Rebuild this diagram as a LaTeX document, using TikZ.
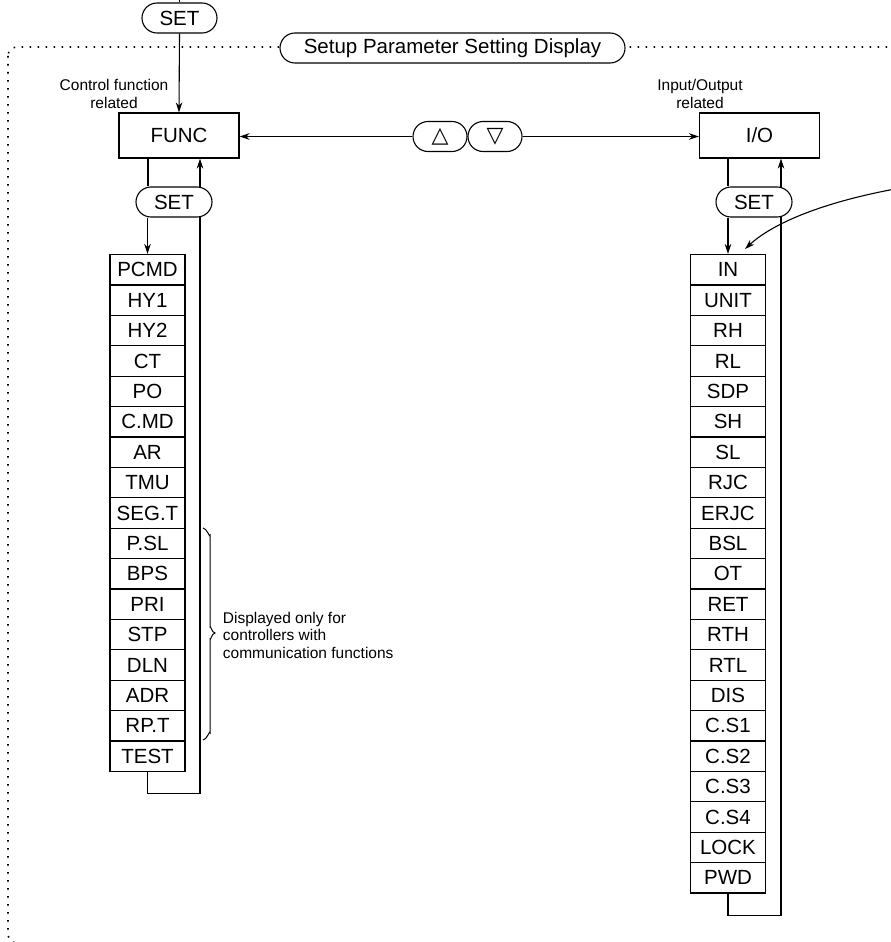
\documentclass[tikz,border=0pt]{standalone}
\usepackage{fontspec}
\setmainfont{Liberation Sans}
\newfontfamily\symfnt{DejaVu Sans}
\usetikzlibrary{arrows.meta}
\begin{document}
\begin{tikzpicture}[x=1pt,y=-1pt,
  >={Stealth[length=10pt,width=6.5pt]},
  line width=1.1pt,
  lbl/.style={font=\fontsize{20.5}{24}\selectfont},
  small/.style={font=\fontsize{15.5}{17.5}\selectfont},
  rowbox/.style={draw, lbl, minimum width=75pt, minimum height=30.4pt, inner sep=0pt, anchor=north},
  oval/.style={draw, fill=white, lbl, rounded corners=15pt, minimum height=30pt, inner sep=0pt},
  bigbox/.style={draw, lbl, minimum width=120pt, minimum height=45pt, inner sep=0pt},
  frame/.style={line width=1.6pt, dash pattern=on 1.6pt off 6.4pt, rounded corners=9pt}]
\useasboundingbox (0,0) rectangle (891,942);
\clip (0,0) rectangle (891,942);

% dotted frame and title
\draw[frame] (8,47) rectangle (910,943);
\node[oval, minimum width=345pt] (title) at (452.5,48) {Setup Parameter Setting Display};

% top SET
\coordinate (topin) at (179.5,-2);
\node[oval, minimum width=75pt] (set0) at (179.5,18) {SET};

% main boxes
\node[bigbox] (func) at (179,135.5) {FUNC};
\node[bigbox] (io) at (759.5,135.5) {I/O};
\node[small, align=center] (cfr) at (114,94) {Control function\\related};
\node[small, align=center] (ior) at (700,94) {Input/Output\\related};

% up/down keys
\node[oval, minimum width=54pt, font=\fontsize{22}{24}\symfnt] (up) at (440,136.5) {△};
\node[oval, minimum width=54pt, font=\fontsize{22}{24}\symfnt] (dn) at (495,136.5) {▽};

% lists
\foreach \t [count=\i] in {PCMD,HY1,HY2,CT,PO,C.MD,AR,TMU,SEG.T,P.SL,BPS,PRI,STP,DLN,ADR,RP.T,TEST}
  \node[rowbox] (f\i) at (147.5,{254+(\i-1)*30.4}) {\t};
\foreach \t [count=\i] in {IN,UNIT,RH,RL,SDP,SH,SL,RJC,ERJC,BSL,OT,RET,RTH,RTL,DIS,C.S1,C.S2,C.S3,C.S4,LOCK,PWD}
  \node[rowbox] (r\i) at (728,{254+(\i-1)*30.4}) {\t};

% return loops (drawn before the SET keys so the keys cover them)
\coordinate (fr) at (200,0);
\coordinate (fl) at (148,0);
\coordinate (irr) at (781,0);
\coordinate (il) at (728,0);
\draw[->] (f17.south) -- ++(0,22) -| (func.south -| fr);
\draw[->] (r21.south) -- ++(0,22) -| (io.south -| irr);

% SET keys under FUNC and I/O
\node[oval, minimum width=76pt] (fset) at (174,202) {SET};
\node[oval, minimum width=76pt] (iset) at (754,202) {SET};

% connectors
\draw (topin) -- (set0.north);
\draw[->] (set0.south) -- (func.north);
\draw (func.south -| fl) -- (fset.north -| fl);
\draw[->] (fset.south -| f1.north) -- (f1.north);
\draw (io.south -| il) -- (iset.north -| il);
\draw[->] (iset.south -| r1.north) -- (r1.north);
\draw[->] (up.west) -- (func.east |- up.west);
\draw[->] (dn.east) -- (io.west |- dn.east);

% curved pointer from the right
\coordinate (cs) at (895,189);
\draw[->] (cs) .. controls (820,203) and (772,224) .. ([xshift=17pt,yshift=5pt]r1.north);

% brace and note
\draw[line width=1pt] (203,528) to[out=0,in=-90] (210,535) -- (210,627)
  to[out=90,in=180] (215,633) to[out=180,in=-90] (210,639) -- (210,733)
  to[out=90,in=0] (203,740);
\node[small, align=left, anchor=west] (note) at (219,635)
  {Displayed only for\\controllers with\\communication functions};
\end{tikzpicture}
\end{document}
